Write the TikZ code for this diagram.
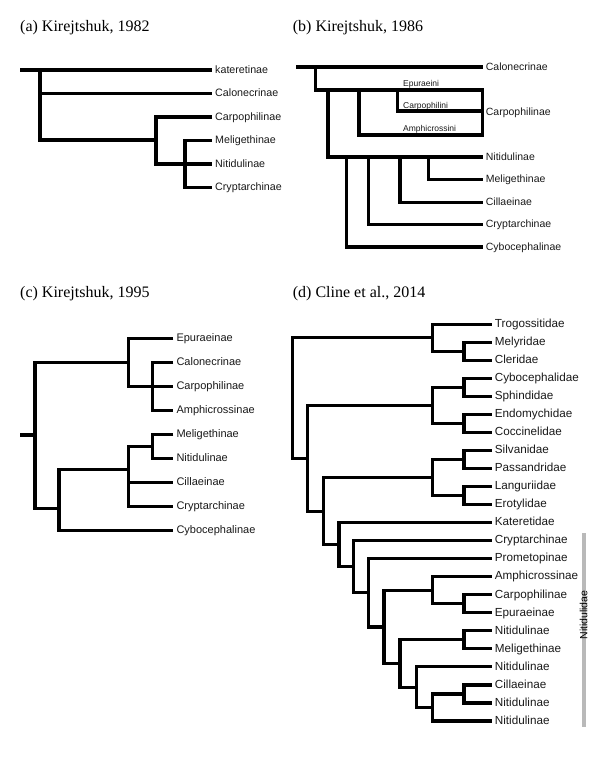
\documentclass[tikz,border=0pt]{standalone}
\usepackage{fontspec}
\setmainfont{Liberation Serif}
\setsansfont{Liberation Sans}
\begin{document}
\begin{tikzpicture}[x=1pt,y=-1pt,
  branch/.style={line width=3.2pt, line join=miter, black},
  lab/.style={anchor=west, inner xsep=3pt, inner ysep=0pt, text height=0.7em, text depth=0.05em, text=black!90},
  labA/.style={lab, font=\sffamily\fontsize{10.7}{12}\selectfont},
  labB/.style={lab, font=\sffamily\fontsize{10.5}{12}\selectfont},
  labS/.style={lab, font=\sffamily\fontsize{8.5}{10}\selectfont},
  labC/.style={lab, font=\sffamily\fontsize{11}{12}\selectfont},
  labD/.style={lab, font=\sffamily\fontsize{11.7}{13}\selectfont},
  ttl/.style={anchor=base west, inner sep=0pt, font=\fontsize{16}{19}\selectfont}]
\path[use as bounding box] (0,0) rectangle (589,780);

% ---------- titles ----------
\node[ttl] (ta) at (20,31.5) {(a) Kirejtshuk, 1982};
\node[ttl] (tb) at (292.7,31.5) {(b) Kirejtshuk, 1986};
\node[ttl] (tc) at (20,297.8) {(c) Kirejtshuk, 1995};
\node[ttl] (td) at (292.7,297.8) {(d) Cline et al., 2014};

% ---------- (a) ----------
\node[labA] (a1) at (212,70) {kateretinae};
\node[labA] (a2) at (212,93.5) {Calonecrinae};
\node[labA] (a3) at (212,117) {Carpophilinae};
\node[labA] (a4) at (212,140.5) {Meligethinae};
\node[labA] (a5) at (212,164) {Nitidulinae};
\node[labA] (a6) at (212,187.5) {Cryptarchinae};
\coordinate (aR) at (20,70);
\coordinate (an1) at (40,70);
\coordinate (an2) at (156,140);
\coordinate (an3) at (185,164);
\draw[branch, line width=3.5pt] (aR) -- (a1.west);
\draw[branch, line width=3.5pt] (an1) |- (an2);
\draw[branch, line width=3.5pt] (an1) |- (a2.west);
\draw[branch, line width=3.5pt] (a3.west) -| (an2) |- (a5.west);
\draw[branch, line width=3.5pt] (a4.west) -| (an3) |- (a6.west);

% ---------- (b) ----------
\node[labB] (b1) at (482.7,67) {Calonecrinae};
\node[labB] (b2) at (482.7,112.5) {Carpophilinae};
\node[labB] (b3) at (482.7,157) {Nitidulinae};
\node[labB] (b4) at (482.7,179.7) {Meligethinae};
\node[labB] (b5) at (482.7,202.2) {Cillaeinae};
\node[labB] (b6) at (482.7,224.6) {Cryptarchinae};
\node[labB] (b7) at (482.7,247) {Cybocephalinae};
\node[labS] (bE) at (400,83) {Epuraeini};
\node[labS] (bC) at (400,105) {Carpophilini};
\node[labS] (bA) at (400,128.5) {Amphicrossini};
\coordinate (bR) at (296,67);
\coordinate (bn1) at (315.7,67);
\coordinate (bTR) at (482.7,90);
\coordinate (bBR) at (482.7,135);
\coordinate (bn3) at (359,90);
\coordinate (bn4) at (397.3,90);
\coordinate (bM) at (482.7,111);
\coordinate (bn5) at (328,90);
\coordinate (bn6) at (428.3,157);
\coordinate (bn7) at (400,157);
\coordinate (bn8) at (368.3,157);
\coordinate (bn9) at (346.7,157);
\draw[branch] (bR) -- (b1.west);
\draw[branch] (bn1) |- (bTR) -- (bBR) -| (bn3);
\draw[branch] (bn4) |- (bM);
\draw[branch] (bn5) |- (b3.west);
\draw[branch] (bn6) |- (b4.west);
\draw[branch] (bn7) |- (b5.west);
\draw[branch] (bn8) |- (b6.west);
\draw[branch] (bn9) |- (b7.west);

% ---------- (c) ----------
\node[labC] (c1) at (173.3,338.3) {Epuraeinae};
\node[labC] (c2) at (173.3,362.3) {Calonecrinae};
\node[labC] (c3) at (173.3,386.3) {Carpophilinae};
\node[labC] (c4) at (173.3,410.3) {Amphicrossinae};
\node[labC] (c5) at (173.3,434.3) {Meligethinae};
\node[labC] (c6) at (173.3,458.3) {Nitidulinae};
\node[labC] (c7) at (173.3,482.3) {Cillaeinae};
\node[labC] (c8) at (173.3,506.3) {Cryptarchinae};
\node[labC] (c9) at (173.3,530.3) {Cybocephalinae};
\coordinate (cS) at (20,435);
\coordinate (cR) at (35,435);
\coordinate (cX) at (128.3,362.3);
\coordinate (cY) at (152.3,386.3);
\coordinate (cMN) at (152.3,446.3);
\coordinate (cZ) at (128.3,469.5);
\coordinate (cW) at (59,508.3);
\draw[branch] (c1.west) -| (cX) |- (c3.west);
\draw[branch] (c2.west) -| (cY) |- (c4.west);
\draw[branch] (c5.west) -| (cMN) |- (c6.west);
\draw[branch] (cMN) -| (cZ) |- (c8.west);
\draw[branch] (cZ) |- (c7.west);
\draw[branch] (cZ) -| (cW) |- (c9.west);
\draw[branch] (cX) -| (cR) |- (cW);
\draw[branch] (cS) -- (cR);

% ---------- (d) ----------
\foreach \n [count=\i from 0] in {Trogossitidae,Melyridae,Cleridae,Cybocephalidae,Sphindidae,Endomychidae,Coccinelidae,Silvanidae,Passandridae,Languriidae,Erotylidae,Kateretidae,Cryptarchinae,Prometopinae,Amphicrossinae,Carpophilinae,Epuraeinae,Nitidulinae,Meligethinae,Nitidulinae,Cillaeinae,Nitidulinae,Nitidulinae}
  \node[labD] (d\i) at (491.7,{324.3+18.03*\i}) {\n};
\coordinate (dMC) at (464,351.35);
\coordinate (dT) at (432.7,337.8);
\coordinate (dCS) at (464,387.4);
\coordinate (dEC) at (464,423.5);
\coordinate (dX) at (432.7,405.4);
\coordinate (dSP) at (464,459.5);
\coordinate (dLE) at (464,495.6);
\coordinate (dY) at (432.7,477.5);
\coordinate (dCE) at (464,603.8);
\coordinate (dA) at (432.7,590.3);
\coordinate (dNM) at (464,639.8);
\coordinate (dCN) at (464,693.9);
\coordinate (dB) at (432.7,707.4);
\coordinate (dC) at (416.7,687.1);
\coordinate (dD) at (400,663.5);
\coordinate (dE) at (384,627);
\coordinate (dF) at (368.7,592.8);
\coordinate (dG) at (353.3,566.7);
\coordinate (dH) at (339,544.7);
\coordinate (dI) at (323.3,511.1);
\coordinate (dJ) at (307.3,458.3);
\coordinate (dR) at (292.7,400);
\draw[branch] (d1.west) -| (dMC) |- (d2.west);
\draw[branch] (d0.west) -| (dT) |- (dMC);
\draw[branch] (d3.west) -| (dCS) |- (d4.west);
\draw[branch] (d5.west) -| (dEC) |- (d6.west);
\draw[branch] (dCS) -| (dX) |- (dEC);
\draw[branch] (d7.west) -| (dSP) |- (d8.west);
\draw[branch] (d9.west) -| (dLE) |- (d10.west);
\draw[branch] (dSP) -| (dY) |- (dLE);
\draw[branch] (d15.west) -| (dCE) |- (d16.west);
\draw[branch] (d14.west) -| (dA) |- (dCE);
\draw[branch] (d17.west) -| (dNM) |- (d18.west);
\draw[branch] (d20.west) -| (dCN) |- (d21.west);
\draw[branch] (dCN) -| (dB) |- (d22.west);
\draw[branch] (d19.west) -| (dC) |- (dB);
\draw[branch] (dNM) -| (dD) |- (dC);
\draw[branch] (dA) -| (dE) |- (dD);
\draw[branch] (d13.west) -| (dF) |- (dE);
\draw[branch] (d12.west) -| (dG) |- (dF);
\draw[branch] (d11.west) -| (dH) |- (dG);
\draw[branch] (dY) -| (dI) |- (dH);
\draw[branch] (dX) -| (dJ) |- (dI);
\draw[branch] (dT) -| (dR) |- (dJ);

\coordinate (gb1) at (584,533);
\coordinate (gb2) at (584,727);
\draw[gray!55, line width=3.2pt] (gb1) -- (gb2);
\node[rotate=90, inner sep=0pt, font=\sffamily\fontsize{10.5}{12}\selectfont, text=black] (nit) at (583.5,615) {Nitidulidae};
\end{tikzpicture}
\end{document}
